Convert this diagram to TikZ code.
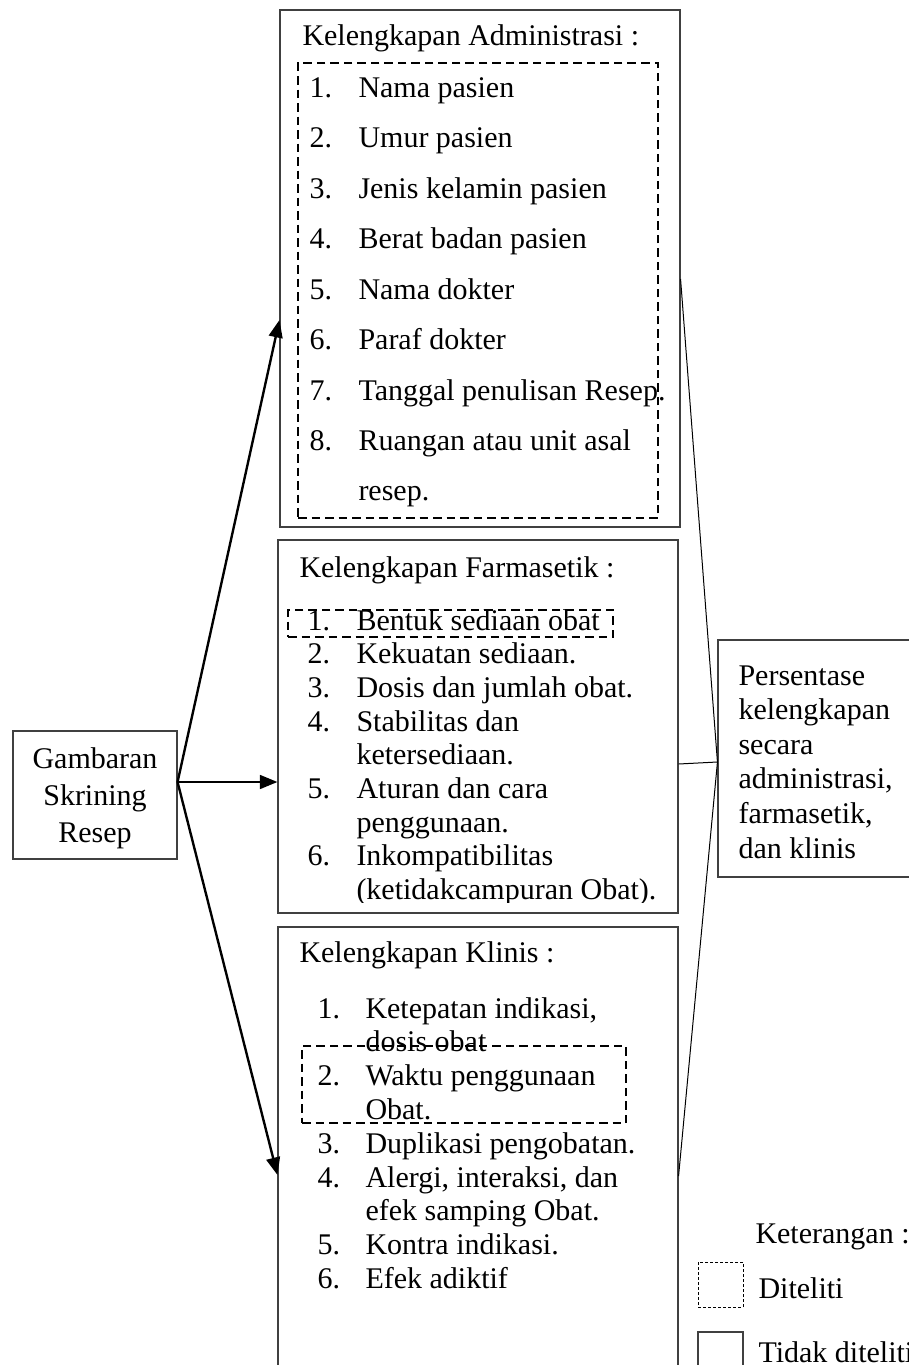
\documentclass[tikz,border=0pt]{standalone}
\usepackage{fontspec}
\setmainfont{Liberation Serif}
\usetikzlibrary{arrows.meta,fit}

\tikzset{
  box/.style={draw=black!75, line width=0.45pt, inner sep=0pt},
  dbox/.style={draw, line width=0.95pt, dash pattern=on 3.4pt off 2pt, inner sep=0pt},
  lbox/.style={draw, line width=0.3pt, dash pattern=on 1.2pt off 0.8pt, inner sep=0pt},
  ln/.style={anchor=base west, inner sep=0pt, font=\fontsize{12}{14}\selectfont},
  arr/.style={line width=0.95pt, -{Triangle[length=7pt,width=5.5pt]}},
  link/.style={line width=0.4pt},
}

\begin{document}
\begin{tikzpicture}[x=0.4pt, y=-0.4pt]
\useasboundingbox (0,0) rectangle (908,1365);

% Gambaran Skrining Resep
\node[box, fit={(13,731) (177,859)}] (gamb) {};
\foreach \t [count=\i] in {Gambaran, Skrining, Resep}
  \node[ln, anchor=base] (g\i) at (95, {768+37*(\i-1)}) {\t};

% Kelengkapan Administrasi
\node[box, fit={(280,10) (680,527)}] (adm) {};
\node[dbox, fit={(298,63) (658,518)}] (admd) {};
\node[ln] (admt) at (302,45.7) {Kelengkapan Administrasi :};
\foreach \t [count=\i] in {Nama pasien, Umur pasien, Jenis kelamin pasien,
    Berat badan pasien, Nama dokter, Paraf dokter, Tanggal penulisan Resep.,
    Ruangan atau unit asal}{
  \node[ln] (an\i) at (309, {97.6+50.4*(\i-1)}) {\i.};
  \node[ln] (at\i) at (358, {97.6+50.4*(\i-1)}) {\t};
}
\node[ln] (at9) at (358, 500.8) {resep.};

% Kelengkapan Farmasetik
\node[box, fit={(278,540) (678,913)}] (far) {};
\node[dbox, fit={(288,610) (613,637)}] (fard) {};
\node[ln] (fart) at (299,577) {Kelengkapan Farmasetik :};
\begin{scope}
  \clip (278,540) rectangle (678,902);
  \foreach \t [count=\i] in {Bentuk sediaan obat, Kekuatan sediaan.,
      Dosis dan jumlah obat., Stabilitas dan, ketersediaan., Aturan dan cara,
      penggunaan., Inkompatibilitas, (ketidakcampuran Obat).}
    \node[ln] (ft\i) at (356, {630+33.7*(\i-1)}) {\t};
  \foreach \n/\k in {1/0, 2/1, 3/2, 4/3, 5/5, 6/7}
    \node[ln] (fn\n) at (307, {630+33.7*\k}) {\n.};
\end{scope}

% Kelengkapan Klinis
\node[box, fit={(278,927) (678,1400)}] (kli) {};
\node[dbox, fit={(302,1046) (626,1123)}] (klid) {};
\node[ln] (klit) at (299,962) {Kelengkapan Klinis :};
\foreach \t [count=\i] in {{Ketepatan indikasi,}, dosis obat, Waktu penggunaan,
    Obat., Duplikasi pengobatan., {Alergi, interaksi, dan}, efek samping Obat.,
    Kontra indikasi., Efek adiktif}
  \node[ln] (kt\i) at (365, {1018+33.8*(\i-1)}) {\t};
\foreach \n/\k in {1/0, 2/2, 3/4, 4/5, 5/7, 6/8}
  \node[ln] (kn\n) at (317, {1018+33.8*\k}) {\n.};

% Persentase
\node[box, fit={(718,640) (915,877)}] (pers) {};
\foreach \t [count=\i] in {Persentase, kelengkapan, secara, {administrasi,},
    {farmasetik,}, dan klinis}
  \node[ln] (pt\i) at (738, {685+34.6*(\i-1)}) {\t};

% arrows
\coordinate (src) at ([yshift=5.2pt]gamb.east);
\draw[arr] (src) -- (adm.west |- 0,320);
\draw[arr] (src) -- (far.west |- src);
\draw[arr] (src) -- (kli.west |- 0,1175);

% lines to Persentase
\draw[link] (adm.east |- 0,279) -- (pers.west |- 0,762) -- (kli.east |- 0,1176);
\draw[link] (far.east |- 0,764) -- (pers.west |- 0,762);

% Keterangan
\node[ln] (ket) at (755,1243) {Keterangan :};
\node[lbox, fit={(698,1262) (743,1307)}] (lgd) {};
\node[ln] (lgdt) at (758,1298) {Diteliti};
\node[box, fit={(698,1332) (743,1400)}] (lgs) {};
\node[ln] (lgst) at (758,1362) {Tidak diteliti};
\end{tikzpicture}
\end{document}
